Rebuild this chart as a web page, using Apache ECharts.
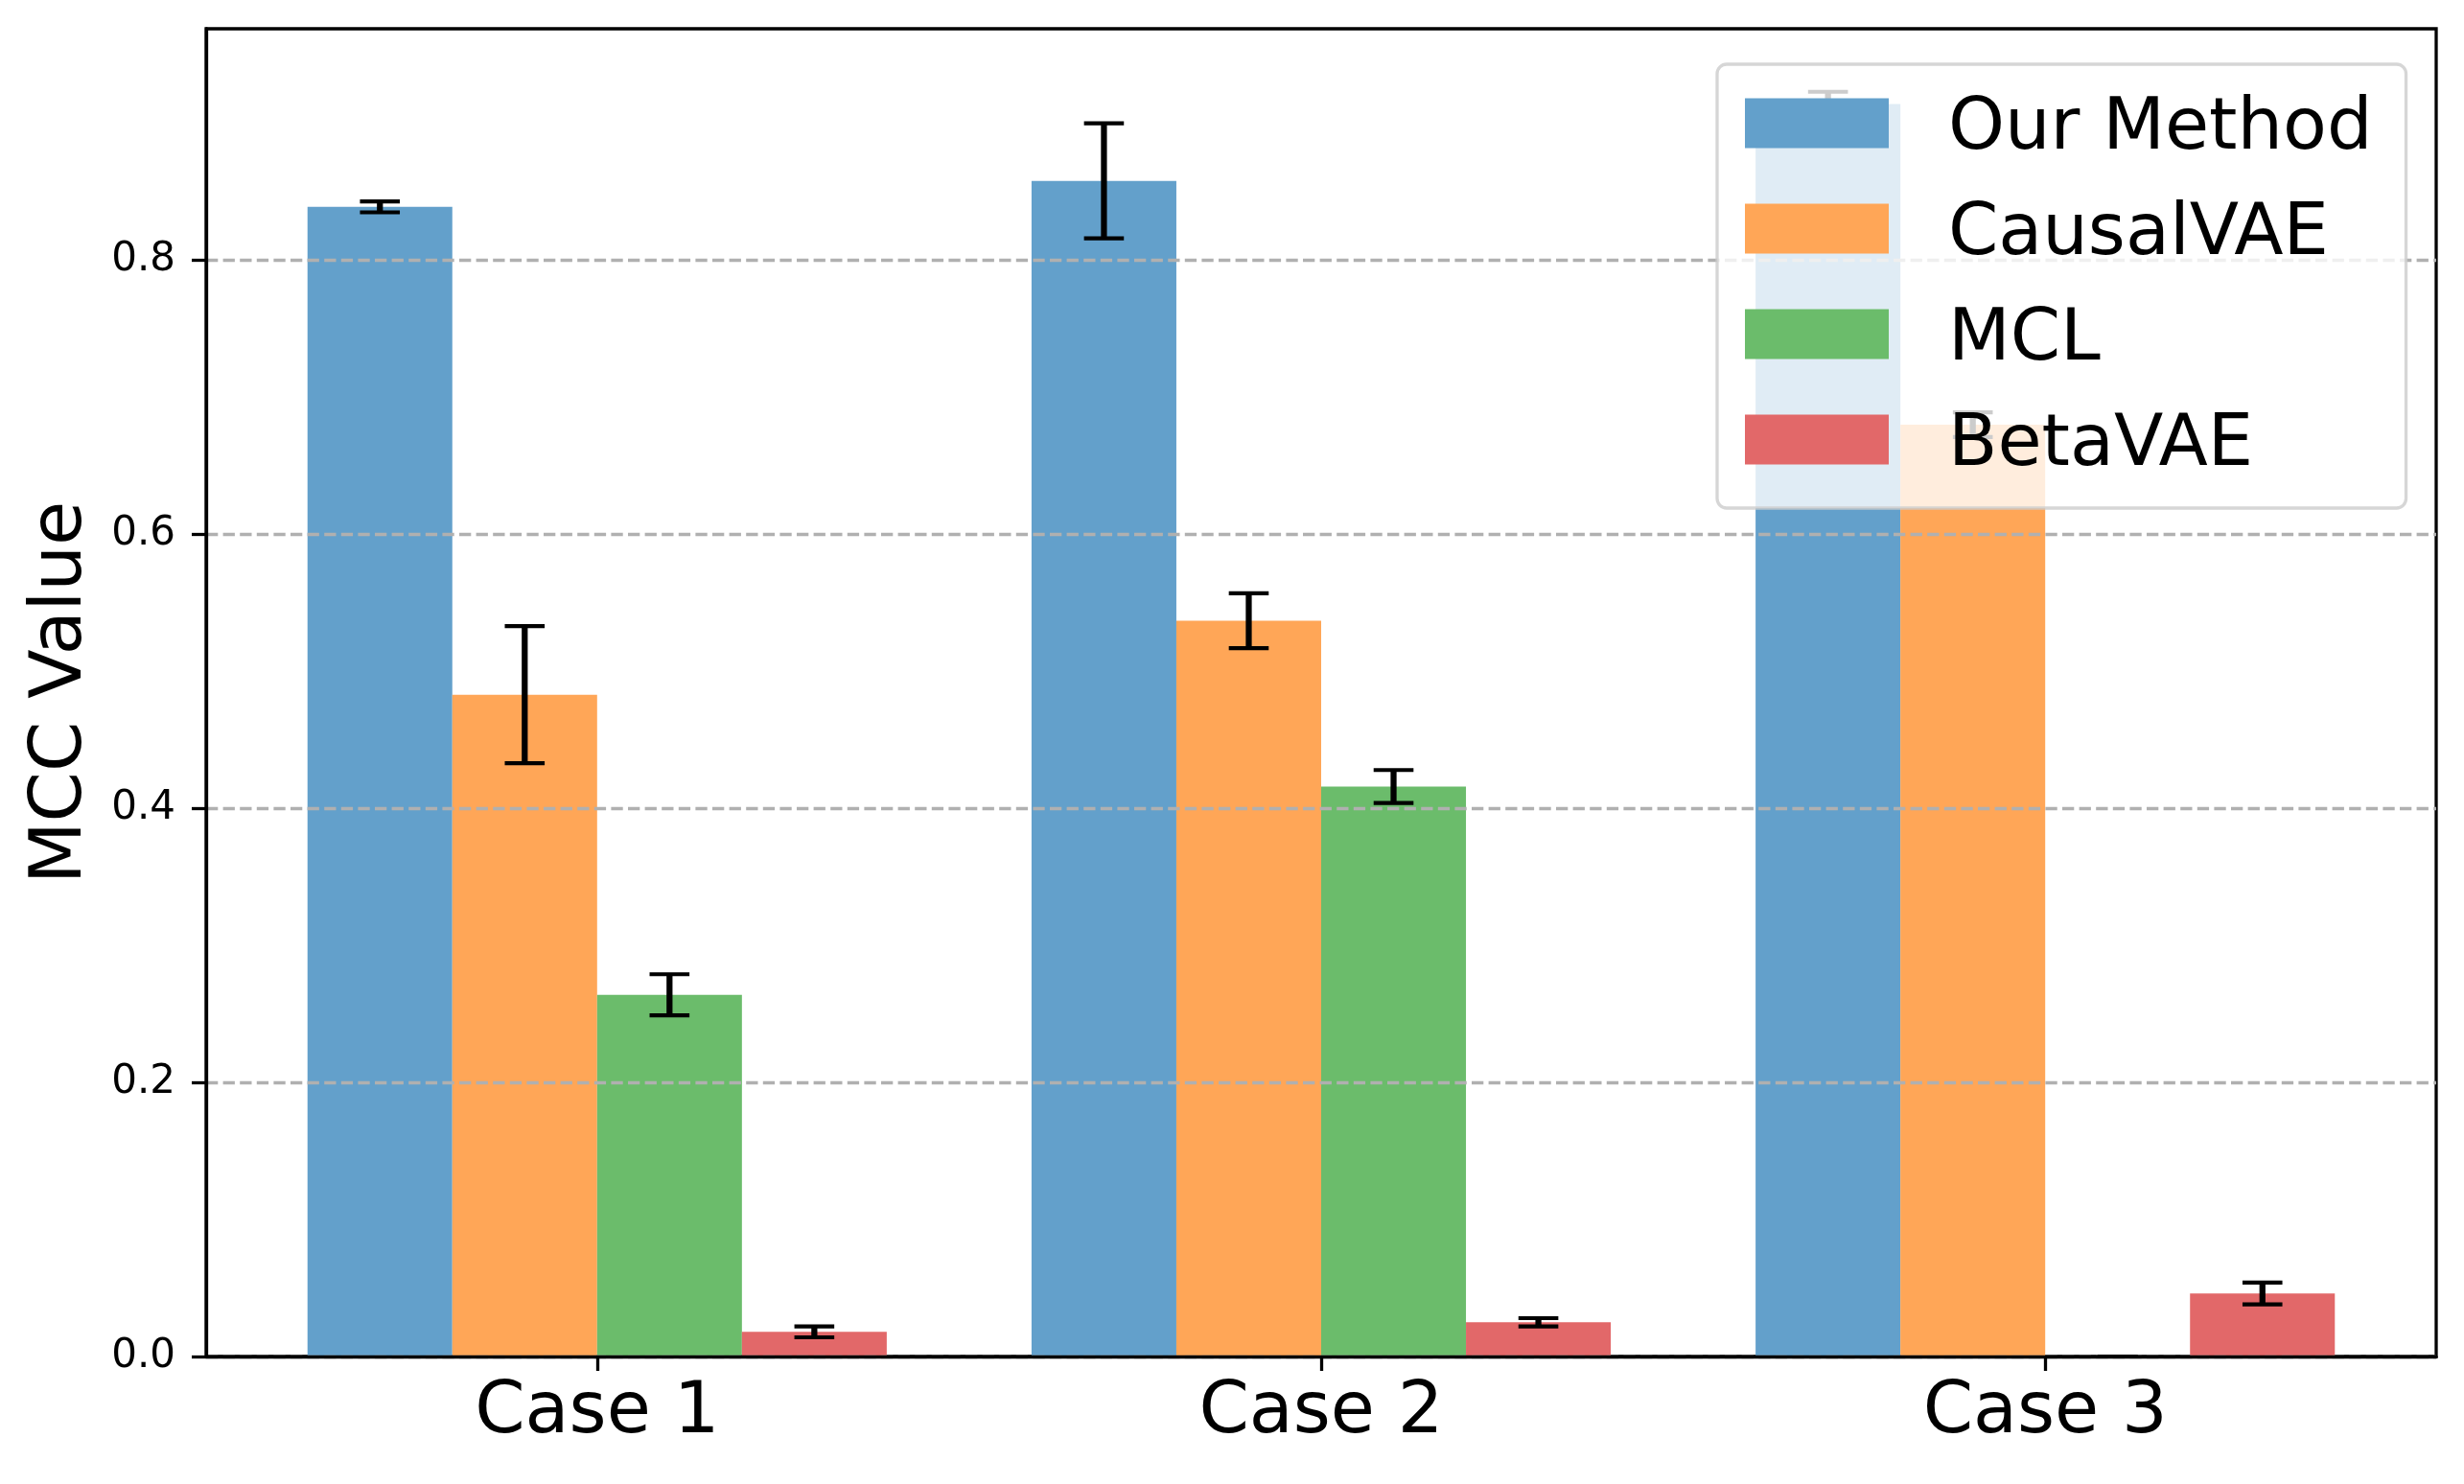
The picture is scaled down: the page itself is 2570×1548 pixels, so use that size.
<!DOCTYPE html>
<html>
<head>
<meta charset="utf-8">
<script src="https://cdn.jsdelivr.net/npm/echarts@6/dist/echarts.min.js"></script>
<style>
html,body{margin:0;padding:0;background:#fff;}
#chart{width:2570px;height:1548px;}
</style>
</head>
<body>
<div id="chart"></div>
<script>
const categories = ['Case 1', 'Case 2', 'Case 3'];
const methods = ['Our Method', 'CausalVAE', 'MCL', 'BetaVAE'];
const ourMethod = [0.839, 0.858, 0.914];
const ourMethodErr = [0.004, 0.042, 0.009];
const causalVAE = [0.483, 0.537, 0.680];
const causalVAEErr = [0.050, 0.020, 0.009];
const mcl = [0.264, 0.416, 0.0];
const mclErr = [0.015, 0.012, 0.0];
const betaVAE = [0.018, 0.025, 0.046];
const betaVAEErr = [0.004, 0.003, 0.008];
const yTicks = [0, 0.2, 0.4, 0.6, 0.8];

const values = [ourMethod, causalVAE, mcl, betaVAE];
const errors = [ourMethodErr, causalVAEErr, mclErr, betaVAEErr];
const colors = ['#63a0cb', '#ffa657', '#6bbc6b', '#e26869'];
const FONT = 'DejaVu Sans';
const W = 0.2;

const chart = echarts.init(document.getElementById('chart'), null, {renderer: 'canvas', devicePixelRatio: 1});

const series = [];
methods.forEach((m, k) => {
  series.push({
    name: m,
    type: 'custom',
    z: 2,
    itemStyle: {color: colors[k]},
    encode: {x: 0, y: 1},
    data: categories.map((c, i) => [i, values[k][i], errors[k][i]]),
    renderItem: function (params, api) {
      const x = api.value(0), v = api.value(1);
      const p0 = api.coord([x - 2 * W + k * W, v]);
      const p1 = api.coord([x - W + k * W, 0]);
      return {type: 'rect', shape: {x: p0[0], y: p0[1], width: p1[0] - p0[0], height: p1[1] - p0[1]},
        style: {fill: colors[k]}};
    }
  });
});
methods.forEach((m, k) => {
  series.push({
    name: 'err_' + m,
    type: 'custom',
    z: 4,
    encode: {x: 0, y: 1},
    data: categories.map((c, i) => [i, values[k][i], errors[k][i]]),
    renderItem: function (params, api) {
      const x = api.value(0), v = api.value(1), e = api.value(2);
      const cx = x - 1.5 * W + k * W;
      const top = api.coord([cx, v + e]);
      const bot = api.coord([cx, v - e]);
      const cap = 20.8;
      return {type: 'group', children: [
        {type: 'line', shape: {x1: top[0], y1: top[1], x2: bot[0], y2: bot[1]}, style: {stroke: '#000', lineWidth: 6.25}},
        {type: 'line', shape: {x1: top[0] - cap, y1: top[1], x2: top[0] + cap, y2: top[1]}, style: {stroke: '#000', lineWidth: 4.17}},
        {type: 'line', shape: {x1: bot[0] - cap, y1: bot[1], x2: bot[0] + cap, y2: bot[1]}, style: {stroke: '#000', lineWidth: 4.17}}
      ]};
    }
  });
});

chart.setOption({
  animation: false,
  backgroundColor: '#fff',
  grid: {left: 215, right: 29, top: 30, bottom: 133, show: true, borderColor: '#000', borderWidth: 3.3, backgroundColor: 'transparent'},
  legend: {
    z: 10,
    orient: 'vertical',
    left: 1791, top: 67,
    padding: [31, 35, 27, 29],
    itemGap: 35,
    itemWidth: 150, itemHeight: 52,
    icon: 'rect',
    backgroundColor: 'rgba(255,255,255,0.8)',
    borderColor: 'rgba(204,204,204,0.8)',
    borderWidth: 3.3,
    borderRadius: 10,
    selectedMode: false,
    formatter: name => '{a|' + name + '}',
    textStyle: {fontFamily: FONT, fontSize: 75, color: '#000',
      rich: {a: {fontFamily: FONT, fontSize: 75, color: '#000', padding: [14, 0, 0, 57]}}},
    data: methods.map((m, k) => ({name: m, itemStyle: {color: colors[k]}}))
  },
  xAxis: {
    type: 'value', min: -0.54, max: 2.54, z: 5,
    axisLine: {show: true, onZero: false, lineStyle: {color: '#000', width: 3.3}},
    axisTick: {show: true, length: 15, lineStyle: {color: '#000', width: 3.3}, customValues: [0, 1, 2]},
    axisLabel: {show: true, customValues: [0, 1, 2], margin: 22, fontFamily: FONT, fontSize: 75, color: '#000',
      formatter: v => categories[Math.round(v)]},
    splitLine: {show: false}
  },
  yAxis: {
    type: 'value', min: 0, max: 0.969, interval: 0.2, z: 3,
    name: 'MCC Value', nameLocation: 'middle', nameRotate: 90, nameGap: 113,
    nameTextStyle: {fontFamily: FONT, fontSize: 75, color: '#000'},
    axisLine: {show: true, onZero: false, lineStyle: {color: '#000', width: 3.3}},
    axisTick: {show: true, length: 15, lineStyle: {color: '#000', width: 3.3}, customValues: yTicks},
    axisLabel: {show: true, customValues: yTicks, margin: 32, fontFamily: FONT, fontSize: 42, color: '#000',
      formatter: v => v.toFixed(1)},
    splitLine: {show: true, lineStyle: {color: '#b0b0b0', width: 3.3, type: [12.3, 5.3]}}
  },
  series: series
});
</script>
</body>
</html>
